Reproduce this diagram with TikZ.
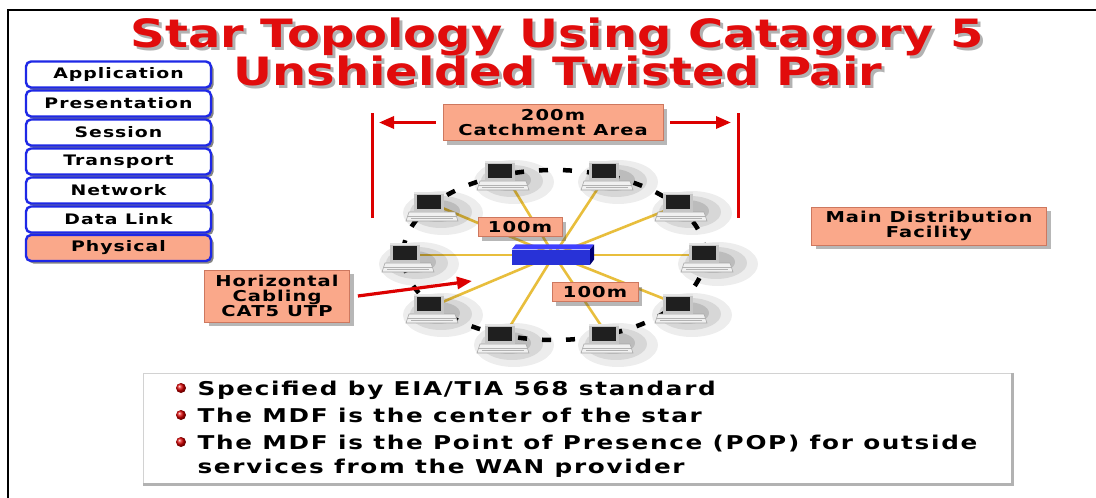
\documentclass[tikz,border=0pt]{standalone}
\usepackage{fontspec}
\usetikzlibrary{shadows,arrows.meta}
\newfontfamily\wfont[FakeStretch=1.3,LetterSpace=7]{DejaVu Sans}
\newfontfamily\nfont[FakeStretch=1.3,LetterSpace=9]{DejaVu Sans}
\newfontfamily\tfont[FakeStretch=1.23]{DejaVu Sans}
\definecolor{salmon}{RGB}{250,168,138}
\definecolor{salmonedge}{RGB}{205,120,95}
\definecolor{titlered}{RGB}{225,12,12}
\definecolor{osiblue}{RGB}{30,40,230}
\definecolor{hubblue}{RGB}{40,50,215}
\definecolor{cablegold}{RGB}{232,190,60}
\definecolor{markred}{RGB}{220,0,0}
\begin{document}
\begin{tikzpicture}[x=1pt,y=-1pt,
  bodyfont/.style={font=\wfont\bfseries\fontsize{#1}{#1}\selectfont},
  osibox/.style={draw=osiblue, line width=2.4pt, rounded corners=5pt, fill=white,
    minimum width=185pt, minimum height=26pt, inner sep=0pt,
    drop shadow={shadow xshift=2.5pt, shadow yshift=-2.5pt, opacity=.6, fill=black!80},
    bodyfont=14.5},
  salmonbox/.style={fill=salmon, draw=salmonedge, line width=.8pt, inner sep=0pt,
    drop shadow={shadow xshift=4pt, shadow yshift=-4pt, opacity=.4, fill=black!70},
    align=center, bodyfont=15},
  titletext/.style={anchor=base, text=titlered, font=\tfont\bfseries\fontsize{39}{39}\selectfont},
  titleshadow/.style={anchor=base, text=black!55, opacity=.55, font=\tfont\bfseries\fontsize{39}{39}\selectfont},
  redbar/.style={draw=markred, line width=3pt},
  redarrow/.style={draw=markred, line width=3.2pt,
    -{Triangle[length=15pt,width=12pt,fill=markred]}},
  cable/.style={draw=cablegold, line width=2.6pt},
  ring/.style={draw=black, line width=4.5pt, dash pattern=on 9pt off 15pt},
  notetext/.style={anchor=base west, font=\nfont\bfseries\fontsize{19}{19}\selectfont},
  pics/computer/.style={code={
    % soft shadow cast to the lower right
    \fill[black,opacity=.07] (14,9) ellipse (40 and 22);
    \fill[black,opacity=.09] (12,8) ellipse (31 and 16);
    \fill[black,opacity=.12] (9,7) ellipse (22 and 11);
    % base unit / keyboard
    \draw[gray!70, fill=gray!12, line width=.6pt] (-20,8) -- (26,8) -- (29,17) -- (-23,17) -- cycle;
    \draw[gray!60, line width=.6pt] (-21,12) -- (27,12);
    \draw[gray!60, line width=.6pt] (-18,14.5) -- (24,14.5);
    % monitor
    \fill[gray!45] (-15,-12) rectangle (15,8);
    \fill[gray!20] (-15,-12) rectangle (15,-10.5);
    \fill[black!88] (-12,-9.5) rectangle (12,5);
  }}
]
\useasboundingbox[fill=white] (0,0) rectangle (1096,498);

% outer frame
\draw[line width=2.5pt] (8,498) -- (8,10) -- (1096,10);

% title
\node[titleshadow] (t1s) at (560,50.5) {Star Topology Using Catagory 5};
\node[titletext]   (t1)  at (557,47.5) {Star Topology Using Catagory 5};
\node[titleshadow] (t2s) at (561,88) {Unshielded Twisted Pair};
\node[titletext]   (t2)  at (558,85) {Unshielded Twisted Pair};

% OSI layer stack
\node[osibox] (app)  at (118.5,74.5)  {Application};
\node[osibox] (pres) at (118.5,103.5) {Presentation};
\node[osibox] (sess) at (118.5,132.5) {Session};
\node[osibox] (tran) at (118.5,161.5) {Transport};
\node[osibox] (netw) at (118.5,190.5) {Network};
\node[osibox] (dlnk) at (118.5,219.5) {Data Link};
\node[osibox, fill=salmon] (phys) at (118.5,248) {Physical};

% catchment area markers
\draw[redbar] (372,113) coordinate (barLt) -- (372,218) coordinate (barLb);
\draw[redbar] (738,113) coordinate (barRt) -- (738,218) coordinate (barRb);
\node[salmonbox, minimum width=220pt, minimum height=36pt] (catch) at (553,122.5) {200m\\Catchment Area};
\coordinate (arrL) at (379,122.5);
\coordinate (arrR) at (731,122.5);
\draw[redarrow] ([xshift=-7pt]catch.west) -- (arrL);
\draw[redarrow] ([xshift=7pt]catch.east) -- (arrR);

% star: ring, hub and workstations
\coordinate (hubc) at (554,255);
\coordinate (pc1)  at (500,173);
\coordinate (pc2)  at (604,173);
\coordinate (pc3)  at (429,204);
\coordinate (pc4)  at (678,204);
\coordinate (pc5)  at (405,255);
\coordinate (pc6)  at (704,255);
\coordinate (pc7)  at (429,306);
\coordinate (pc8)  at (678,306);
\coordinate (pc9)  at (500,336);
\coordinate (pc10) at (604,336);

\draw[ring] (hubc) ellipse (151 and 85);

\foreach \p in {pc1,pc2,pc3,pc4,pc5,pc6,pc7,pc8,pc9,pc10}
  \draw[cable] (hubc) -- ([xshift=4pt]\p);

\foreach \p in {pc1,pc2,pc3,pc4,pc5,pc6,pc7,pc8,pc9,pc10}
  \pic at (\p) {computer};

% hub (MDF switch)
\node[fill=hubblue, minimum width=78pt, minimum height=15pt, inner sep=0pt] (hub) at (551,257) {};
\fill[blue!75!white] (hub.north west) -- ++(4,-5) -- ++(78,0) -- (hub.north east) -- cycle;
\fill[blue!45!black] (hub.north east) -- ++(4,-5) -- ++(0,15) -- (hub.south east) -- cycle;

\node[salmonbox, minimum width=84pt, minimum height=19pt] (d1) at (520,227) {100m};
\node[salmonbox, minimum width=86pt, minimum height=19pt] (d2) at (595,292) {100m};

% callouts
\node[salmonbox, minimum width=145pt, minimum height=52pt] (horiz) at (277,296)
  {Horizontal\\Cabling\\CAT5 UTP};
\coordinate (hcend) at (472,281);
\draw[redarrow] ([xshift=8pt]horiz.east) -- (hcend);

\node[salmonbox, minimum width=235pt, minimum height=38pt] (mdf) at (929,226)
  {Main Distribution\\Facility};

% notes panel
\node[draw=gray!35, fill=white, minimum width=869pt, minimum height=111pt, inner sep=0pt] (notes) at (577.5,428.5) {};
\draw[gray!60, line width=3pt] (notes.north east) -- (notes.south east) -- (notes.south west);

\shade[ball color=red!85!black] (181,388) circle (5);
\shade[ball color=red!85!black] (181,415) circle (5);
\shade[ball color=red!85!black] (181,442) circle (5);
\node[notetext] (n1) at (194,395) {Specified by EIA/TIA 568 standard};
\node[notetext] (n2) at (194,422) {The MDF is the center of the star};
\node[notetext] (n3) at (194,449) {The MDF is the Point of Presence (POP) for outside};
\node[notetext] (n4) at (194,473) {services from the WAN provider};
\end{tikzpicture}
\end{document}
